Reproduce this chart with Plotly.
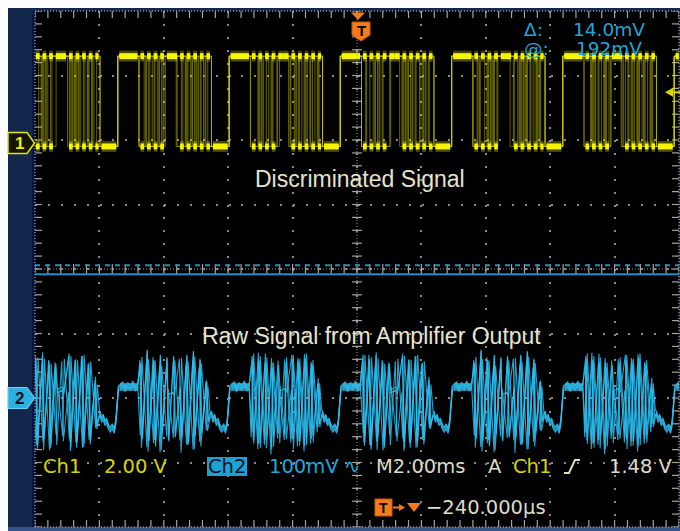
import numpy as np
import plotly.graph_objects as go

W, H = 680, 531
ML, MR, MT, MB = 35, 1, 11, 4
PW, PH = W - ML - MR, H - MT - MB

time_range_ms = [-10.0, 10.0]          # M 2.00 ms/div, 10 divisions
div_range = [-4.0, 4.0]                # 8 vertical divisions
ch1_volts_per_div = 2.0                # Ch1 2.00 V
ch1_position_div = 2.0
ch2_mv_per_div = 100.0                 # Ch2 100 mV
ch2_position_div = -2.0

frame_start_ms = [-11.43, -7.98, -4.52, -1.07, 2.39, 5.84, 9.30]
sync_low_ms = 0.55
sync_high_ms = 0.66
bit_ms = 0.205

ch1_high_v = 2.6
ch1_low_v = -0.2
ch1_trigger_level_v = 1.48
ch1_sweep_bits = [
    "01011101010 10101110101 11001101100 00111110011 10011110110 01101100101 11011101001",
    "11001101100 00111110011 10011110110 01101100101 11011101001 01011101010 10101110101",
    "10011110110 01101100101 11011101001 01011101010 10101110101 11001101100 00111110011",
    "11011101001 01011101010 10101110101 11001101100 00111110011 10011110110 01101100101",
    "10101110101 11001101100 00111110011 10011110110 01101100101 11011101001 01011101010",
    "00111110011 10011110110 01101100101 11011101001 01011101010 10101110101 11001101100",
]
ch1_sweep_jitter_ms = [0.0, 0.055, -0.045, 0.085, -0.075, 0.025]

ch2_sync_t = [0.00, 0.05, 0.10, 0.15, 0.20, 0.26, 0.32, 0.38, 0.44, 0.49, 0.53, 0.57]
ch2_sync_mv = [-25, -35, -30, -40, -36, -46, -50, -45, -52, -38, -10, 14]
ch2_flat_t = [0.62, 0.70, 0.78, 0.86, 0.94, 1.02, 1.10, 1.17]
ch2_flat_mv = [16, 20, 13, 19, 15, 21, 14, 18]
ch2_burst_t = [1.25, 1.30, 1.455, 1.505, 1.66, 1.71, 1.865, 1.915, 2.07, 2.12, 2.275, 2.325,
               2.48, 2.53, 2.685, 2.735, 2.89, 2.94, 3.095, 3.145, 3.30, 3.35, 3.42]
ch2_burst_mv = {
    "a": [62, -74, 56, -80, 66, -62, 52, -78, 48, 8, 12, 6, 64, -82, 55, -70, 60, -76, 50, -72, 28, -48, -30],
    "b": [-58, 64, -76, 60, -70, 58, -84, 50, -60, 14, -62, 58, -66, 62, -72, 56, -80, 64, -68, 54, -50, 18, -25],
    "c": [50, -66, 70, -70, 54, -78, 62, -60, 58, -70, 60, -64, 12, -64, 62, -74, 68, -62, 56, -58, 22, -40, -28],
}
ch2_sweep_variant = ["abcabca", "bcabcab", "cabcabc", "acbacba"]
ch2_sweep_jitter_ms = [0.0, 0.015, -0.015, 0.008]
ch2_sweep_offset_mv = [0, 3, -3, 5]
ch2_cursor_mv = [192.0, 206.0]         # @: 192mV, delta 14.0mV

# ---------------- colours ----------------
YEL = "#f6f600"
YEL_TXT = "#d6d200"
CYAN_TXT = "#1ea6d8"
BEIGE = "#dedbc2"
ORANGE = "#f47a1a"
NAVY = "#13264b"

# ---------------- helpers (pixel -> paper) ----------------
def px(x):
    return (x - ML) / PW

def py(y):
    return (H - MB - y) / PH

def path_px(pts, close=True):
    s = "M " + " L ".join(f"{px(x):.5f},{py(y):.5f}" for x, y in pts)
    return s + (" Z" if close else "")

fig = go.Figure()

# ---------------- graticule ticks ----------------
minor_x = np.arange(time_range_ms[0], time_range_ms[1] + 1e-9, 0.4)
minor_y = np.arange(div_range[0], div_range[1] + 1e-9, 0.2)
tick_line = dict(color="#a4a4a4", width=1.2)
fig.add_trace(go.Scatter(x=minor_x, y=np.zeros_like(minor_x), mode="markers", yaxis="y",
                         marker=dict(symbol="line-ns", size=7, line=tick_line), hoverinfo="skip"))
fig.add_trace(go.Scatter(x=np.zeros_like(minor_y), y=minor_y, mode="markers", yaxis="y",
                         marker=dict(symbol="line-ew", size=7, line=tick_line), hoverinfo="skip"))
for yy in div_range:
    fig.add_trace(go.Scatter(x=minor_x, y=np.full_like(minor_x, yy), mode="markers", yaxis="y",
                             marker=dict(symbol="line-ns", size=10, line=tick_line), hoverinfo="skip"))
for xx in time_range_ms:
    fig.add_trace(go.Scatter(x=np.full_like(minor_y, xx), y=minor_y, mode="markers", yaxis="y",
                             marker=dict(symbol="line-ew", size=10, line=tick_line), hoverinfo="skip"))

# ---------------- channel 2 (raw signal) ----------------
c2x, c2y = [], []
for s, sched in enumerate(ch2_sweep_variant):
    jit = ch2_sweep_jitter_ms[s]
    off = ch2_sweep_offset_mv[s]
    for k, t0 in enumerate(frame_start_ms):
        v = sched[k]
        c2x += [t0 + t for t in ch2_sync_t] + [t0 + t for t in ch2_flat_t] + [t0 + t + jit for t in ch2_burst_t]
        c2y += [m + off for m in ch2_sync_mv] + [m + off for m in ch2_flat_mv] + [m + off for m in ch2_burst_mv[v]]
    c2x.append(None)
    c2y.append(None)

gx, gy = [], []
flat_mean = float(np.mean(ch2_flat_mv))
for t0 in frame_start_ms:
    gx += [t0 + ch2_flat_t[0], t0 + ch2_flat_t[-1], None]
    gy += [flat_mean, flat_mean, None]
fig.add_trace(go.Scatter(x=gx, y=gy, yaxis="y3", mode="lines",
                         line=dict(color="rgba(70,210,250,0.6)", width=8), hoverinfo="skip"))
fig.add_trace(go.Scatter(x=c2x, y=c2y, yaxis="y3", mode="lines",
                         line=dict(color="rgba(45,190,240,0.85)", width=1.1), hoverinfo="skip"))

# ---------------- channel 1 (discriminated signal) ----------------
n_sw = len(ch1_sweep_bits)
frames_bits = [b.split() for b in ch1_sweep_bits]
slots = []   # (start, end, levels per sweep, starts at a data-bit edge)
for k, t0 in enumerate(frame_start_ms):
    nb = len(frames_bits[0][k])
    t_end = frame_start_ms[k + 1] if k + 1 < len(frame_start_ms) else t0 + sync_low_ms + sync_high_ms + nb * bit_ms
    slots.append((t0, t0 + sync_low_ms, [0] * n_sw, False))
    ts = t0 + sync_low_ms + sync_high_ms
    slots.append((t0 + sync_low_ms, ts, [1] * n_sw, False))
    for i in range(nb):
        a = ts + i * bit_ms
        b = ts + (i + 1) * bit_ms if i < nb - 1 else t_end
        slots.append((a, b, [int(frames_bits[s][k][i]) for s in range(n_sw)], i > 0))

lvl_v = [ch1_low_v, ch1_high_v]
c1x, c1y = [], []
for s in range(n_sw):
    jit = ch1_sweep_jitter_ms[s]
    for j, (a, b, lv, bit_edge) in enumerate(slots):
        a2 = a + (jit if bit_edge else 0.0)
        nxt_bit_edge = slots[j + 1][3] if j + 1 < len(slots) else False
        b2 = b + (jit if nxt_bit_edge else 0.0)
        c1x += [a2, b2]
        c1y += [lvl_v[lv[s]], lvl_v[lv[s]]]
    c1x.append(None)
    c1y.append(None)

trim = 0.045
bx, by = [], []
for L in (0, 1):
    for j, (a, b, lv, _) in enumerate(slots):
        if L not in lv:
            continue
        left_tr = j > 0 and any(slots[j - 1][2][s] != lv[s] for s in range(n_sw))
        right_tr = j + 1 < len(slots) and any(slots[j + 1][2][s] != lv[s] for s in range(n_sw))
        bx += [a + (trim if left_tr else 0), b - (trim if right_tr else 0), None]
        by += [lvl_v[L], lvl_v[L], None]

fig.add_trace(go.Scatter(x=c1x, y=c1y, yaxis="y2", mode="lines",
                         line=dict(color="rgba(215,215,0,0.45)", width=1), hoverinfo="skip"))
fig.add_trace(go.Scatter(x=bx, y=by, yaxis="y2", mode="lines",
                         line=dict(color="rgba(255,255,0,0.28)", width=11), hoverinfo="skip"))
fig.add_trace(go.Scatter(x=bx, y=by, yaxis="y2", mode="lines",
                         line=dict(color=YEL, width=6), hoverinfo="skip"))

# ---------------- shapes ----------------
shapes = []
shapes.append(dict(type="rect", xref="paper", yref="paper", x0=px(0), x1=px(W), y0=py(8), y1=py(0),
                   fillcolor="white", line=dict(width=0), layer="below"))
shapes.append(dict(type="rect", xref="paper", yref="paper", x0=px(0), x1=px(8), y0=py(H), y1=py(0),
                   fillcolor="white", line=dict(width=0), layer="below"))
shapes.append(dict(type="rect", xref="paper", yref="paper", x0=px(8), x1=px(W), y0=py(H), y1=py(527),
                   fillcolor="#34548a", line=dict(width=0), layer="below"))
shapes.append(dict(type="rect", xref="paper", yref="paper", x0=px(32), x1=px(35), y0=py(527), y1=py(11),
                   fillcolor="#0b1640", line=dict(width=0), layer="below"))
shapes.append(dict(type="rect", xref="paper", yref="paper", x0=0, x1=1, y0=0, y1=1,
                   line=dict(color="#8c8c8c", width=1.5, dash="1px,2px")))
shapes.append(dict(type="line", xref="paper", yref="y", x0=0, x1=1, y0=0, y1=0,
                   line=dict(color="#9a9a9a", width=1, dash="1px,2px")))
shapes.append(dict(type="line", xref="x", yref="paper", x0=0, x1=0, y0=0, y1=1,
                   line=dict(color="#9a9a9a", width=1, dash="1px,2px")))
shapes.append(dict(type="line", xref="paper", yref="y3", x0=0, x1=1, y0=ch2_cursor_mv[0], y1=ch2_cursor_mv[0],
                   line=dict(color="#1b92c8", width=2)))
shapes.append(dict(type="line", xref="paper", yref="y3", x0=0, x1=1, y0=ch2_cursor_mv[1], y1=ch2_cursor_mv[1],
                   line=dict(color="#1b92c8", width=2, dash="5px,5px")))
shapes.append(dict(type="path", xref="paper", yref="paper",
                   path=path_px([(8, 132.5), (27, 132.5), (34.5, 143), (27, 153.5), (8, 153.5)]),
                   fillcolor="#161600", line=dict(color="#e4e400", width=1.5)))
shapes.append(dict(type="path", xref="paper", yref="paper",
                   path=path_px([(8, 387.5), (27, 387.5), (34.5, 398), (27, 408.5), (8, 408.5)]),
                   fillcolor="#2bb0e0", line=dict(color="#66d2f6", width=1.2)))
shapes.append(dict(type="path", xref="paper", yref="paper",
                   path=path_px([(351, 12.5), (365, 12.5), (358, 20)]), fillcolor=ORANGE, line=dict(width=0)))
shapes.append(dict(type="path", xref="paper", yref="paper",
                   path=path_px([(352, 22), (370, 22), (370, 35), (361, 41), (352, 35)]),
                   fillcolor=ORANGE, line=dict(color="#c05a10", width=1)))
dv = 0.14
shapes.append(dict(type="path", xref="paper", yref="y2",
                   path=f"M {px(665):.5f},{ch1_trigger_level_v} L {px(673):.5f},{ch1_trigger_level_v + dv} "
                        f"L {px(673):.5f},{ch1_trigger_level_v - dv} Z",
                   fillcolor="#d8d400", line=dict(width=0)))
shapes.append(dict(type="line", xref="paper", yref="y2", x0=px(672), x1=px(680),
                   y0=ch1_trigger_level_v, y1=ch1_trigger_level_v, line=dict(color="#d8d400", width=2)))
shapes.append(dict(type="rect", xref="paper", yref="paper", x0=px(207), x1=px(247), y0=py(476), y1=py(457),
                   fillcolor="#1ea2d6", line=dict(width=0)))
shapes.append(dict(type="path", xref="paper", yref="paper",
                   path=path_px([(564, 473), (569, 473), (575, 460), (580, 460)], close=False),
                   line=dict(color=BEIGE, width=2)))
shapes.append(dict(type="rect", xref="paper", yref="paper", x0=px(375), x1=px(392), y0=py(516), y1=py(499),
                   fillcolor=ORANGE, line=dict(color="#c05a10", width=1)))
shapes.append(dict(type="line", xref="paper", yref="paper", x0=px(393), x1=px(401), y0=py(507.5), y1=py(507.5),
                   line=dict(color=ORANGE, width=2)))
shapes.append(dict(type="path", xref="paper", yref="paper",
                   path=path_px([(399, 504), (405, 507.5), (399, 511)]), fillcolor=ORANGE, line=dict(width=0)))
shapes.append(dict(type="path", xref="paper", yref="paper",
                   path=path_px([(407, 503), (421, 503), (414, 512)]), fillcolor=ORANGE, line=dict(width=0)))

# ---------------- text ----------------
ann = []
def txt(s, x, y, color, size=19.5, family="DejaVu Sans", xanchor="left"):
    ann.append(dict(text=s, x=px(x), y=py(y), xref="paper", yref="paper", xanchor=xanchor,
                    yanchor="middle", showarrow=False, borderpad=0,
                    font=dict(family=family, size=size, color=color)))

txt("Discriminated Signal", 360, 178.5, "#e6e4cb", size=23, family="Liberation Sans", xanchor="center")
txt("Raw Signal from Amplifier Output", 371.5, 336, "#e6e4cb", size=23, family="Liberation Sans", xanchor="center")
txt("Δ:", 523, 30, CYAN_TXT, size=18.5)
txt("14.0mV", 572, 30, CYAN_TXT, size=18.5)
txt("@:", 523, 48.5, CYAN_TXT, size=18.5)
txt("192mV", 575, 48.5, CYAN_TXT, size=18.5)
txt("Ch1", 42, 466, YEL_TXT)
txt("2.00 V", 103, 466, YEL_TXT)
txt("Ch2", 227, 466, "#06121c", xanchor="center")
txt("100mV", 268, 466, CYAN_TXT)
txt("∿", 343, 466, CYAN_TXT)
txt("M2.00ms", 375, 466, BEIGE)
txt("A", 487, 466, BEIGE)
txt("Ch1", 512, 466, YEL_TXT)
txt("1.48 V", 608, 466, BEIGE)
txt("−240.000µs", 425, 507.5, BEIGE)
txt("<b>1</b>", 19, 143, "#f0f000", size=17, family="Liberation Sans", xanchor="center")
txt("<b>2</b>", 19, 398, "#06121c", size=17, family="Liberation Sans", xanchor="center")
txt("<b>T</b>", 361, 30.5, "#000000", size=15, family="Liberation Sans", xanchor="center")
txt("<b>T</b>", 383.5, 507.5, "#000000", size=14, family="Liberation Sans", xanchor="center")

grid_kw = dict(showgrid=True, gridcolor="#8a8a8a", gridwidth=2, griddash="2px,10.9px",
               zeroline=False, showticklabels=False, ticks="", showline=False, fixedrange=True)

fig.update_layout(
    width=W, height=H, margin=dict(l=ML, r=MR, t=MT, b=MB, pad=0),
    paper_bgcolor=NAVY, plot_bgcolor="black", showlegend=False,
    xaxis=dict(range=time_range_ms, dtick=2, tick0=0, **grid_kw),
    yaxis=dict(range=div_range, dtick=1, tick0=0, **grid_kw),
    yaxis2=dict(overlaying="y",
                range=[(div_range[0] - ch1_position_div) * ch1_volts_per_div,
                       (div_range[1] - ch1_position_div) * ch1_volts_per_div],
                visible=False, fixedrange=True),
    yaxis3=dict(overlaying="y",
                range=[(div_range[0] - ch2_position_div) * ch2_mv_per_div,
                       (div_range[1] - ch2_position_div) * ch2_mv_per_div],
                visible=False, fixedrange=True),
    shapes=shapes, annotations=ann,
)

fig.write_html("out.html", config={"displayModeBar": False},
               post_script="document.body.style.margin='0px';"
                           "document.body.style.overflow='hidden';"
                           "document.documentElement.style.overflow='hidden';")
